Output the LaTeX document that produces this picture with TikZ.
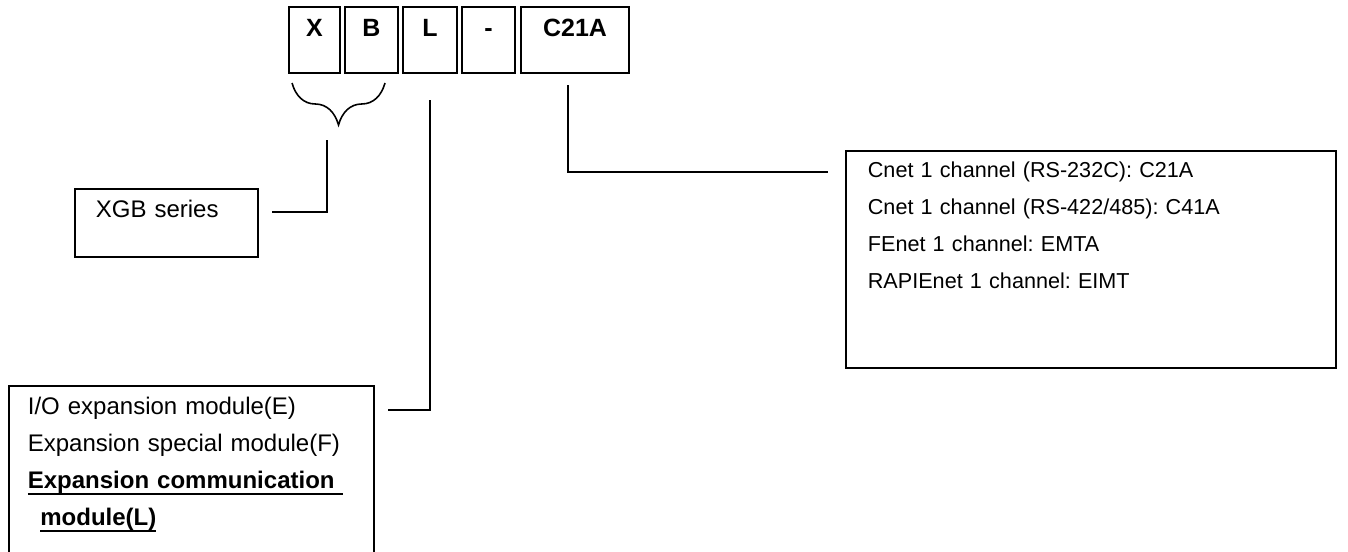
\documentclass[tikz,border=0pt]{standalone}
\usepackage{fontspec}
\setmainfont{Liberation Sans}
\usetikzlibrary{positioning,decorations.pathreplacing}

\newsavebox{\ulinebox}
\newcommand{\undertext}[1]{\leavevmode\sbox{\ulinebox}{#1}\rlap{\rule[-0.25em]{\wd\ulinebox}{1pt}}\usebox{\ulinebox}}

\tikzset{
  letter/.style={draw, line width=1pt, inner xsep=0pt, inner ysep=0pt,
    text height=0.58cm, text depth=0.74cm, anchor=base,
    font=\bfseries\fontsize{14.2}{17}\selectfont},
  infobox/.style={draw, line width=1pt, anchor=north west, align=left, inner ysep=0pt},
  wire/.style={line width=0.9pt}
}

\begin{document}
\frenchspacing
\begin{tikzpicture}[x=0.02cm, y=-0.02cm]
  \useasboundingbox (0,0) rectangle (1348,551);
  % model code boxes
  \node[letter, minimum width=1.02cm] (bX) at (314.5,36) {X};
  \node[letter, minimum width=1.06cm] (bB) at (371.5,36) {B};
  \node[letter, minimum width=1.08cm] (bL) at (430,36) {L};
  \node[letter, minimum width=1.06cm] (bDash) at (488.5,36) {-};
  \node[letter, minimum width=2.16cm] (bType) at (575,36) {C21A};

  % description boxes
  \node[infobox, text width=2.82cm, inner xsep=0.42cm, text height=0.58cm, text depth=0.78cm,
    font=\fontsize{13.66}{21}\selectfont] (series) at (74,188) {XGB series};
  \node[infobox, text width=6.54cm, inner xsep=0.38cm, text height=0.58cm, text depth=3.2cm,
    font=\fontsize{13.66}{21}\selectfont] (module) at (8,385)
    {I/O expansion module(E)\\
     Expansion special module(F)\\
     \undertext{\bfseries Expansion communication\ }\\
     \hspace*{0.25cm}\undertext{\bfseries module(L)}};
  \node[infobox, text width=8.92cm, inner xsep=0.44cm, text height=0.54cm, text depth=3.8cm,
    font=\fontsize{12.3}{21}\selectfont] (comm) at (845,150)
    {Cnet 1 channel (RS-232C): C21A\\
     Cnet 1 channel (RS-422/485): C41A\\
     FEnet 1 channel: EMTA\\
     RAPIEnet 1 channel: EIMT};

  % connectors
  \coordinate (braceR) at (385,83);
  \coordinate (braceL) at (292,83);
  \draw[wire, decorate, decoration={brace, amplitude=0.84cm}] (braceR) -- (braceL);
  \coordinate (seriesTop) at (327,140);
  \coordinate (seriesEnd) at (272,212);
  \draw[wire] (seriesTop) |- (seriesEnd);
  \coordinate (moduleTop) at (430,100);
  \coordinate (moduleEnd) at (388,410);
  \draw[wire] (moduleTop) |- (moduleEnd);
  \coordinate (commTop) at (568,85);
  \coordinate (commEnd) at (828,172);
  \draw[wire] (commTop) |- (commEnd);
\end{tikzpicture}
\end{document}
